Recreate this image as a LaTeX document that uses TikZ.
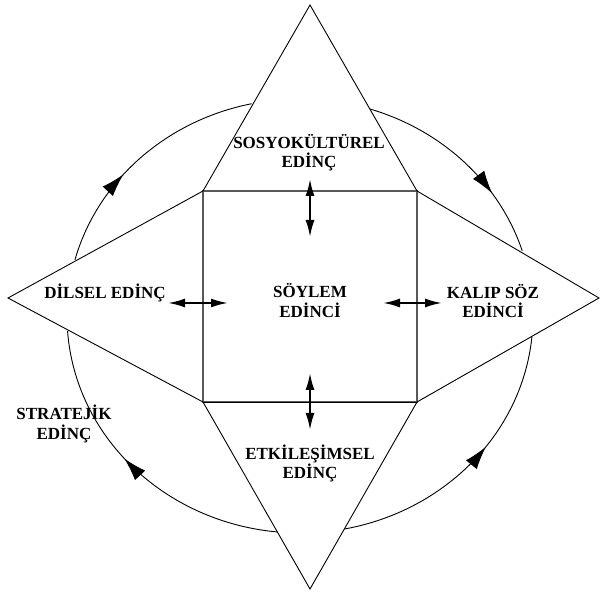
\documentclass[tikz,border=0pt]{standalone}
\usepackage{fontspec}
\setmainfont{Liberation Serif}
\usetikzlibrary{arrows.meta,decorations.markings}
\begin{document}
\begin{tikzpicture}[x=1pt,y=1pt,
 lbl/.style={font=\bfseries\fontsize{17}{19.5}\selectfont, align=center, inner sep=0pt},
 edge/.style={line width=0.9pt, line join=miter},
 sq/.style={line width=1.3pt, draw=black!65},
 dbl/.style={{Latex[length=17pt,width=9pt]}-{Latex[length=17pt,width=9pt]}, line width=2pt},
 flow/.style={line width=0.9pt, postaction={decorate}, decoration={markings, mark=at position #1 with {\arrow{Latex[length=23pt,width=14pt]}}}}
]
\useasboundingbox (0,0) rectangle (601,596);
% square corners
\coordinate (A) at (203,405);
\coordinate (B) at (417,405);
\coordinate (C) at (417,194);
\coordinate (D) at (203,194);
% apexes
\coordinate (T) at (310,591);
\coordinate (L) at (8,298);
\coordinate (R) at (599,298);
\coordinate (S) at (310,7);
% centre of the ring
\coordinate (E) at (300,280);
% square
\draw[sq] (A) -- (B) -- (C) -- (D) -- cycle;
% triangles
\draw[edge] (A) -- (T) -- (B);
\draw[edge] (A) -- (L) -- (D);
\draw[edge] (B) -- (R) -- (C);
\draw[edge] (D) -- (S) -- (C);
\draw[edge] (D) -- (C);
% ring arcs
\draw[flow=0.40] ([shift={(165:233 and 217)}]E) arc[start angle=165, end angle=102, x radius=233, y radius=217];
\draw[flow=0.70] ([shift={(72.6:233 and 217)}]E) arc[start angle=72.6, end angle=17.5, x radius=233, y radius=217];
\draw[flow=0.55] ([shift={(264.5:233 and 217)}]E) arc[start angle=264.5, end angle=184, x radius=233, y radius=217];
\draw[flow=0.58] ([shift={(281:233 and 217)}]E) arc[start angle=281, end angle=354.5, x radius=233, y radius=217];
% texts
\node[lbl] (sosyo) at (309,443.5) {SOSYOKÜLTÜREL\\EDİNÇ};
\node[lbl] (dilsel) at (105,303) {DİLSEL EDİNÇ};
\node[lbl] (soylem) at (310,295.5) {SÖYLEM\\EDİNCİ};
\node[lbl] (kalip) at (493,295) {KALIP SÖZ\\EDİNCİ};
\node[lbl] (strat) at (64,172) {STRATEJİK\\EDİNÇ};
\node[lbl] (etki) at (310,132.5) {ETKİLEŞİMSEL\\EDİNÇ};
% double arrows
\coordinate (t1) at (310,417);
\coordinate (t2) at (310,359);
\coordinate (b1) at (310,223);
\coordinate (b2) at (310,166);
\coordinate (l1) at (168,293);
\coordinate (l2) at (228,293);
\coordinate (r1) at (383,293);
\coordinate (r2) at (442,293);
\draw[dbl] (t1) -- (t2);
\draw[dbl] (b1) -- (b2);
\draw[dbl] (l1) -- (l2);
\draw[dbl] (r1) -- (r2);
\end{tikzpicture}
\end{document}
